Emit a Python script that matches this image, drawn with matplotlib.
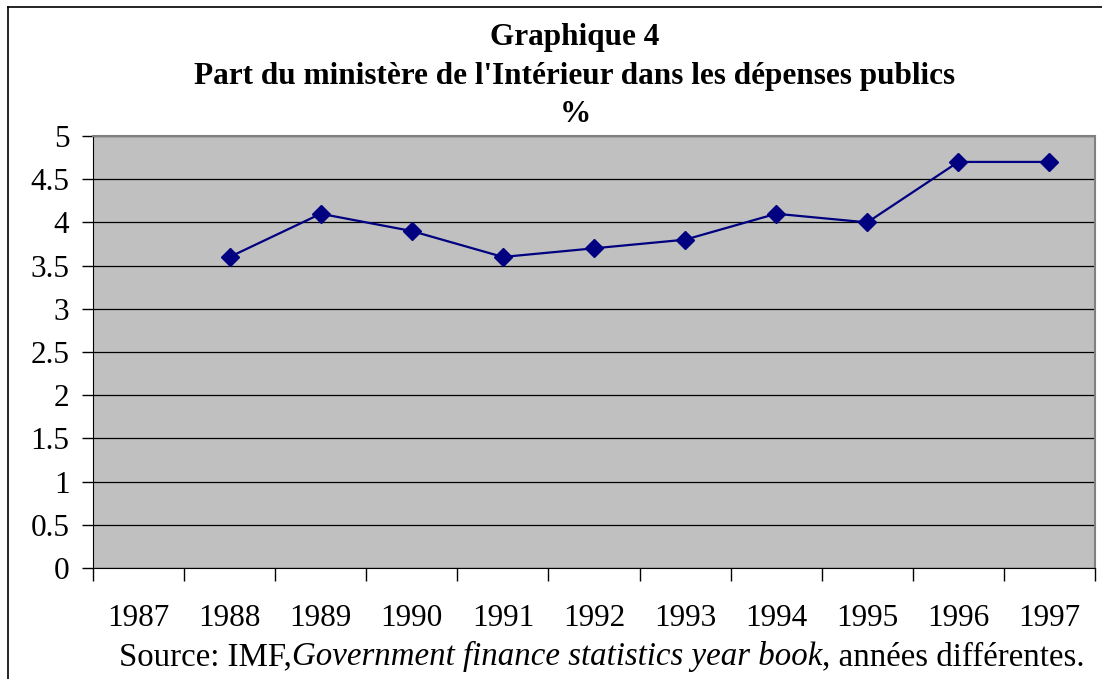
import numpy as np
import matplotlib
matplotlib.use("Agg")
import matplotlib.pyplot as plt
from matplotlib.lines import Line2D

# data
years = ["1987", "1988", "1989", "1990", "1991", "1992", "1993", "1994", "1995", "1996", "1997"]
share = [np.nan, 3.6, 4.1, 3.9, 3.6, 3.7, 3.8, 4.1, 4.0, 4.7, 4.7]
y_ticks = [0, 0.5, 1, 1.5, 2, 2.5, 3, 3.5, 4, 4.5, 5]
y_labels = ["0", "0.5", "1", "1.5", "2", "2.5", "3", "3.5", "4", "4.5", "5"]

plt.rcParams['font.family'] = ['Liberation Serif', 'DejaVu Serif']

W, H = 1102, 679
fig = plt.figure(figsize=(W / 100, H / 100), dpi=100)

# outer chart frame (left and top edges visible)
fig.add_artist(Line2D([7.5 / W, 7.5 / W], [0, 1 - 6.5 / H], color='black', lw=1.2))
fig.add_artist(Line2D([7.5 / W, 1], [1 - 6.5 / H, 1 - 6.5 / H], color='black', lw=1.2))

ax = fig.add_axes([93 / W, 1 - 568 / H, (1095 - 93) / W, (568 - 136) / H])
ax.set_facecolor('#c0c0c0')

x = np.arange(len(years))
ax.plot(x, share, color='#000080', lw=1.6, marker='D', markersize=9.5,
        markerfacecolor='#000080', markeredgecolor='#000080', zorder=3)

ax.set_xlim(-0.5, len(years) - 0.5)
ax.set_ylim(0, 5)

ax.set_yticks(y_ticks)
ax.set_yticklabels(y_labels, fontsize=22.5)
ax.yaxis.grid(True, color='black', lw=0.9)
ax.set_axisbelow(True)

# category ticks at the boundaries, labels at the centers
ax.set_xticks(np.arange(len(years) + 1) - 0.5)
ax.set_xticklabels([])
ax.set_xticks(x, minor=True)
ax.set_xticklabels(years, minor=True, fontsize=22.5)
ax.tick_params(axis='x', which='minor', length=0, pad=26)
ax.tick_params(axis='x', which='major', length=9, width=1, direction='out')
ax.tick_params(axis='y', length=8, width=1, direction='out', pad=9)

ax.spines['top'].set_color('#808080')
ax.spines['right'].set_color('#808080')
ax.spines['top'].set_linewidth(1.5)
ax.spines['right'].set_linewidth(1.5)
ax.spines['left'].set_color('black')
ax.spines['bottom'].set_color('black')

# title
title_lines = ["Graphique 4",
               "Part du ministère de l'Intérieur dans les dépenses publics",
               "%"]
for line, base in zip(title_lines, [45, 84, 122]):
    fig.text(575 / W, 1 - base / H, line, ha='center', va='baseline',
             fontsize=22.5, fontweight='bold')

# source line with italic book title
parts = [("Source: IMF,", 'normal'),
         ("Government finance statistics year book", 'italic'),
         (", années différentes.", 'normal')]
texts = [fig.text(0, 1 - 665 / H, s, ha='left', va='baseline', fontsize=23.7, style=st)
         for s, st in parts]
renderer = fig.canvas.get_renderer()
widths = [t.get_window_extent(renderer).width for t in texts]
start = 601.5 - sum(widths) / 2
for t, w in zip(texts, widths):
    t.set_x(start / W)
    start += w

fig.savefig("out.png", dpi=100)
